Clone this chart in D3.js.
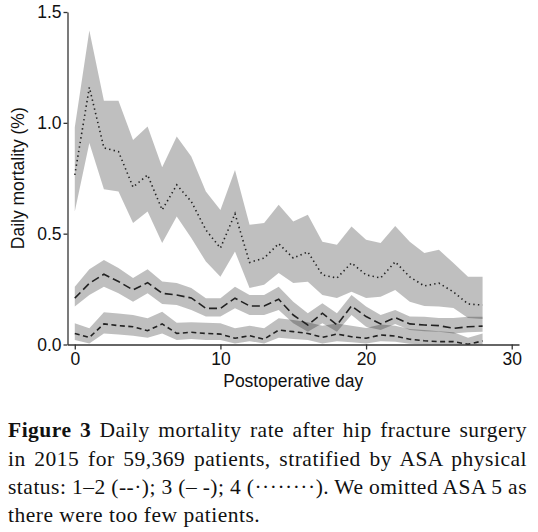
<!DOCTYPE html>
<html>
<head>
<meta charset="utf-8">
<script src="https://cdn.jsdelivr.net/npm/d3@7"></script>
<style>
    body { margin: 0; background: #fff; }
    svg { display: block; }
</style>
</head>
<body>
<svg id="chart" width="538" height="532"></svg>
<script>
const days = [0, 1, 2, 3, 4, 5, 6, 7, 8, 9, 10, 11, 12, 13, 14, 15, 16, 17, 18, 19, 20, 21, 22, 23, 24, 25, 26, 27, 28];

// ASA 4 (dotted)
const asa4 = [0.765, 1.16, 0.887, 0.87, 0.71, 0.765, 0.607, 0.72, 0.645, 0.517, 0.435, 0.59, 0.37, 0.39, 0.455, 0.39, 0.418, 0.314, 0.30, 0.368, 0.314, 0.30, 0.373, 0.305, 0.264, 0.277, 0.237, 0.183, 0.178];
const asa4Hi = [0.98, 1.417, 1.10, 1.10, 0.923, 0.983, 0.80, 0.938, 0.848, 0.69, 0.607, 0.787, 0.54, 0.548, 0.63, 0.555, 0.585, 0.464, 0.45, 0.532, 0.472, 0.458, 0.535, 0.464, 0.413, 0.427, 0.368, 0.306, 0.306];
const asa4Lo = [0.60, 0.909, 0.70, 0.69, 0.548, 0.60, 0.458, 0.577, 0.48, 0.374, 0.306, 0.419, 0.255, 0.269, 0.322, 0.277, 0.283, 0.223, 0.21, 0.238, 0.21, 0.215, 0.246, 0.193, 0.174, 0.171, 0.165, 0.12, 0.115];

// ASA 3 (long dash)
const asa3 = [0.209, 0.276, 0.317, 0.284, 0.246, 0.279, 0.231, 0.223, 0.21, 0.163, 0.163, 0.209, 0.174, 0.174, 0.204, 0.133, 0.088, 0.141, 0.088, 0.174, 0.126, 0.093, 0.121, 0.093, 0.088, 0.085, 0.073, 0.08, 0.083];
const asa3Hi = [0.261, 0.34, 0.381, 0.345, 0.30, 0.34, 0.284, 0.277, 0.255, 0.209, 0.209, 0.261, 0.223, 0.223, 0.261, 0.193, 0.141, 0.186, 0.141, 0.223, 0.171, 0.133, 0.156, 0.126, 0.125, 0.12, 0.12, 0.125, 0.125];
const asa3Lo = [0.171, 0.223, 0.261, 0.231, 0.193, 0.231, 0.183, 0.178, 0.156, 0.126, 0.126, 0.163, 0.133, 0.133, 0.156, 0.096, 0.058, 0.096, 0.058, 0.133, 0.08, 0.065, 0.093, 0.065, 0.06, 0.058, 0.05, 0.055, 0.058];

// ASA 1-2 (short dash)
const asa12 = [0.05, 0.032, 0.093, 0.085, 0.08, 0.062, 0.093, 0.05, 0.055, 0.05, 0.047, 0.028, 0.04, 0.024, 0.065, 0.058, 0.05, 0.032, 0.047, 0.035, 0.028, 0.043, 0.038, 0.024, 0.017, 0.013, 0.013, 0.001, 0.016];
const asa12Hi = [0.096, 0.073, 0.145, 0.14, 0.133, 0.118, 0.148, 0.098, 0.10, 0.098, 0.096, 0.073, 0.085, 0.073, 0.118, 0.11, 0.10, 0.085, 0.095, 0.085, 0.075, 0.09, 0.085, 0.07, 0.065, 0.06, 0.055, 0.03, 0.05];
const asa12Lo = [0.02, 0.005, 0.05, 0.045, 0.04, 0.03, 0.05, 0.02, 0.025, 0.02, 0.02, 0.005, 0.015, 0.005, 0.03, 0.025, 0.02, 0.005, 0.015, 0.01, 0.005, 0.015, 0.012, 0.003, 0, 0, 0, 0, 0];

const yTicks = [0, 0.5, 1.0, 1.5];
const xTicks = [0, 10, 20, 30];

const captionLines = [
    ["Figure 3", " Daily mortality rate after hip fracture surgery"],
    ["", "in 2015 for 59,369 patients, stratified by ASA physical"],
    ["", "status: 1\u20132 (--\u00b7); 3 (\u2013 -); 4 (\u00b7\u00b7\u00b7\u00b7\u00b7\u00b7\u00b7\u00b7). We omitted ASA 5 as"],
    ["", "there were too few patients."]
];

var svg = d3.select("#chart");

var x = d3.scaleLinear().domain([-0.5, 30.5]).range([67.5, 519]);
var y = d3.scaleLinear().domain([0, 1.5]).range([344.5, 12]);

var sansFont = "'Liberation Sans', Arial, Helvetica, sans-serif";

// confidence bands first, lines on top
var series = [
    {mid: asa4, lo: asa4Lo, hi: asa4Hi, dash: "1.4,3.2"},
    {mid: asa3, lo: asa3Lo, hi: asa3Hi, dash: "8,4"},
    {mid: asa12, lo: asa12Lo, hi: asa12Hi, dash: "5,3.5"}
];

var area = d3.area()
    .x((d, i) => x(days[i]))
    .y0(d => y(d[0]))
    .y1(d => y(d[1]));

var line = d3.line()
    .x((d, i) => x(days[i]))
    .y(d => y(d));

series.forEach(s => {
    var band = s.lo.map((v, i) => [v, s.hi[i]]);
    svg.append("path")
        .datum(band)
        .attr("d", area)
        .attr("fill", "#000")
        .attr("fill-opacity", 0.25)
        .attr("stroke", "none");
});

series.forEach(s => {
    svg.append("path")
        .datum(s.mid)
        .attr("d", line)
        .attr("fill", "none")
        .attr("stroke", "#222")
        .attr("stroke-width", 1.6)
        .attr("stroke-dasharray", s.dash);
});

// axes
var yAxis = svg.append("g")
    .attr("transform", "translate(67.5,0)")
    .call(d3.axisLeft(y).tickValues(yTicks).tickFormat(d3.format(".1f")).tickSize(4).tickSizeOuter(0).tickPadding(2));

var xAxis = svg.append("g")
    .attr("transform", "translate(0,344.5)")
    .call(d3.axisBottom(x).tickValues(xTicks).tickSize(5).tickSizeOuter(0).tickPadding(3));

[yAxis, xAxis].forEach(ax => {
    ax.selectAll("path, line").attr("stroke", "#333").attr("stroke-width", 1.3);
    ax.selectAll("text")
        .attr("fill", "#111")
        .style("font-family", sansFont)
        .style("font-size", "17.5px");
});

// axis titles
svg.append("text")
    .attr("x", x(15))
    .attr("y", 387)
    .attr("text-anchor", "middle")
    .attr("fill", "#111")
    .style("font-family", sansFont)
    .style("font-size", "17.5px")
    .text("Postoperative day");

svg.append("text")
    .attr("transform", "translate(24," + y(0.75) + ") rotate(-90)")
    .attr("text-anchor", "middle")
    .attr("fill", "#111")
    .style("font-family", sansFont)
    .style("font-size", "17.5px")
    .text("Daily mortality (%)");

// caption, justified except last line
var captionLeft = 8;
var captionRight = 527;
var baselines = [437, 466, 494, 522];

captionLines.forEach((parts, i) => {
    var t = svg.append("text")
        .attr("x", captionLeft)
        .attr("y", baselines[i])
        .attr("fill", "#111")
        .style("font-family", "'Liberation Serif', 'Times New Roman', serif")
        .style("font-size", "21.5px")
        .style("letter-spacing", "0.5px");
    if (parts[0] !== "") {
        t.append("tspan").style("font-weight", "bold").text(parts[0]);
    }
    t.append("tspan").text(parts[1]);

    if (i < captionLines.length - 1) {
        var natural = t.node().getComputedTextLength();
        var spaces = (parts[0] + parts[1]).split(" ").length - 1;
        var extra = (captionRight - captionLeft - natural) / spaces;
        t.style("word-spacing", extra + "px");
    }
});
</script>
</body>
</html>
